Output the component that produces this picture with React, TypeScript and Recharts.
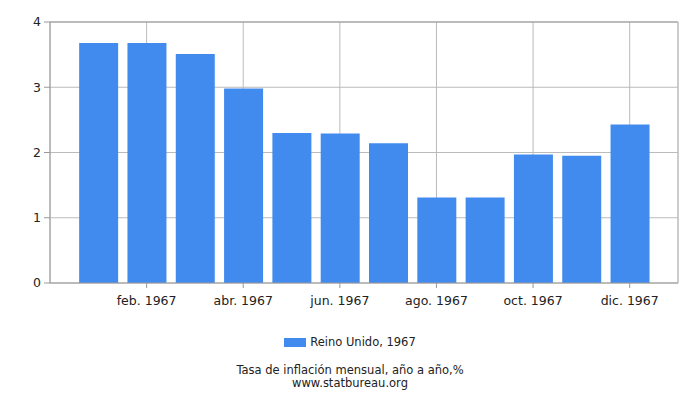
import { BarChart, Bar, XAxis, YAxis, CartesianGrid, ReferenceLine } from 'recharts'

const MONTHS = ['ene.', 'feb.', 'mar.', 'abr.', 'may.', 'jun.', 'jul.', 'ago.', 'sep.', 'oct.', 'nov.', 'dic.']
const YEAR = 1967
const VALUES = [3.68, 3.68, 3.51, 2.98, 2.3, 2.29, 2.14, 1.31, 1.31, 1.97, 1.95, 2.43]
const X_TICKS = [2, 4, 6, 8, 10, 12]
const Y_TICKS = [0, 1, 2, 3, 4]
const SERIES_NAME = 'Reino Unido, 1967'
const TITLE = 'Tasa de inflación mensual, año a año,%'
const SOURCE = 'www.statbureau.org'

const BLUE = '#428bee'
const FONT = 'DejaVu Sans, sans-serif'

const data = VALUES.map((v, i) => ({ m: i + 1, value: v }))

const monthLabel = (m: number) => `${MONTHS[m - 1]} ${YEAR}`

export default function App() {
  return (
    <div style={{ position: 'absolute', left: 0, top: 0, width: 700, height: 400, fontFamily: FONT, color: '#222' }}>
      <BarChart width={700} height={400} data={data} margin={{ top: 22, right: 22, left: 0, bottom: 87 }}>
        <CartesianGrid stroke="#bbb" />
        <XAxis
          dataKey="m"
          type="number"
          domain={[0, 13]}
          ticks={X_TICKS}
          tickFormatter={monthLabel}
          height={30}
          stroke="#999"
          tickSize={5}
          tickMargin={8}
          tick={{ fill: '#222', fontSize: 12.5, fontFamily: FONT }}
        />
        <YAxis
          domain={[0, 4]}
          ticks={Y_TICKS}
          width={50}
          stroke="#999"
          tickSize={6}
          tickMargin={3}
          tick={{ fill: '#222', fontSize: 12.5, fontFamily: FONT }}
        />
        <ReferenceLine y={4} stroke="#999" />
        <ReferenceLine x={13} stroke="#bbb" />
        <Bar dataKey="value" fill={BLUE} barSize={39} isAnimationActive={false} />
      </BarChart>
      <div style={{ position: 'absolute', top: 335, left: 0, width: 700, display: 'flex', justifyContent: 'center', alignItems: 'center', fontSize: 11.5 }}>
        <span style={{ display: 'inline-block', width: 22, height: 9, background: BLUE, marginRight: 4 }} />
        <span>{SERIES_NAME}</span>
      </div>
      <div style={{ position: 'absolute', top: 364, left: 0, width: 700, textAlign: 'center', fontSize: 11.5, lineHeight: '13px' }}>
        <div>{TITLE}</div>
        <div>{SOURCE}</div>
      </div>
    </div>
  )
}
